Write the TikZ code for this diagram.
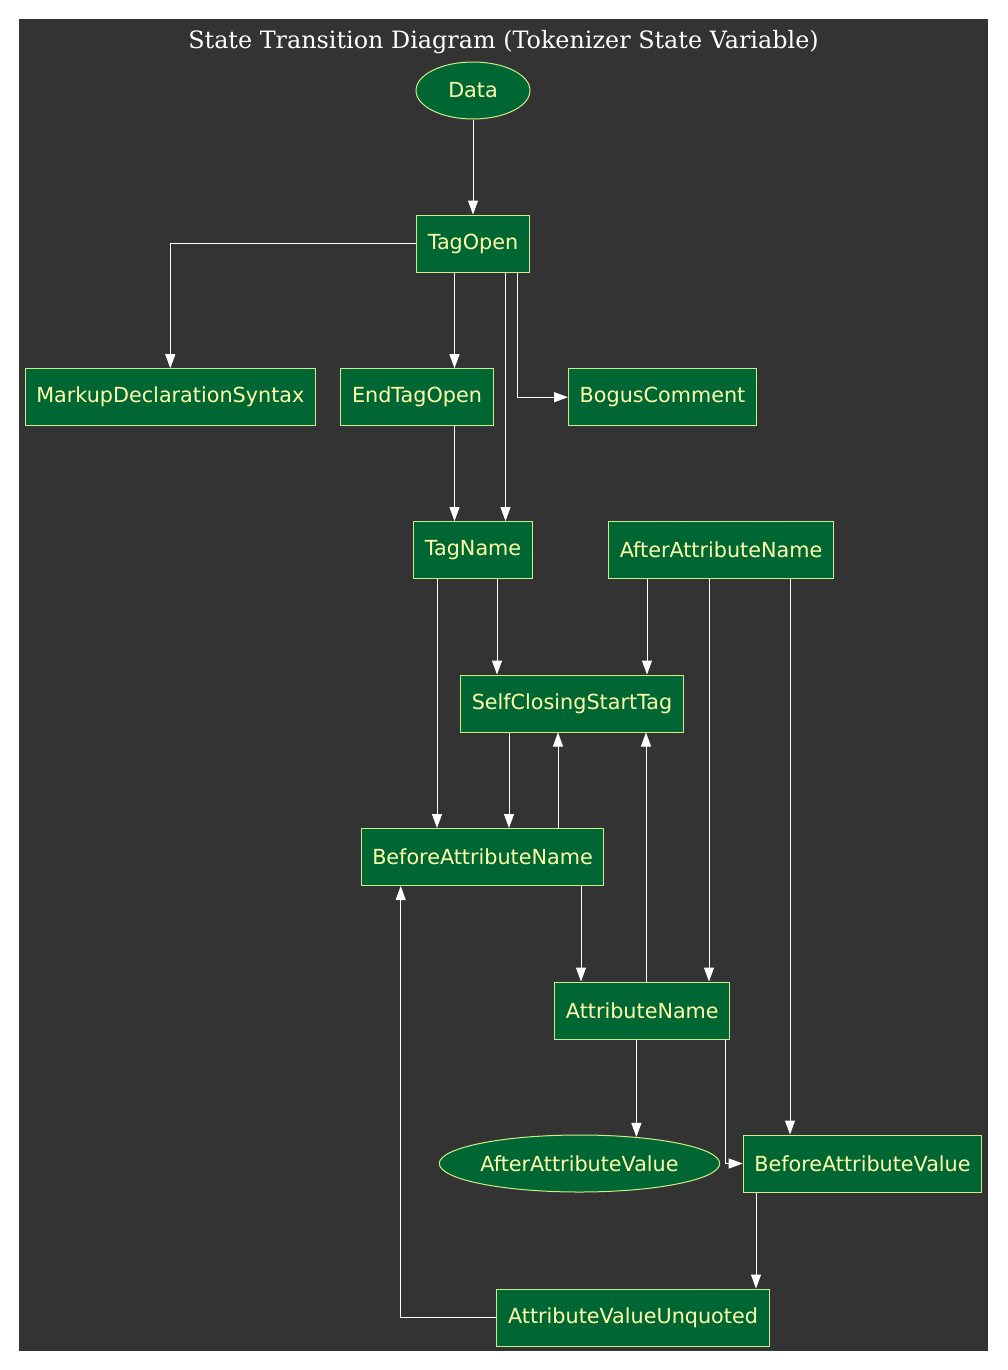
\documentclass[tikz,border=0pt]{standalone}
\usepackage{fontspec}
\setmainfont{DejaVu Serif}
\newfontfamily\statefont{DejaVu Sans}
\usetikzlibrary{arrows.meta,positioning,shapes.geometric}
\definecolor{panel}{HTML}{333333}
\definecolor{statefill}{HTML}{006633}
\definecolor{stateline}{HTML}{CCEE88}
\definecolor{statetext}{HTML}{FFFFAA}
\tikzset{every picture/.style={
  >={Triangle[length=10.5pt,width=7.5pt]}   % Graphviz style arrow heads.
  }
}

\begin{document}
\begin{tikzpicture}[
    x=0.75pt, y=-0.75pt,
    line width=0.75pt,
    state/.style={
      draw=stateline,
      fill=statefill,
      text=statetext,
      font=\statefont\fontsize{15.55}{18}\selectfont,
      minimum height=42.75pt
    },
    statebox/.style={state,rectangle,inner xsep=8.4pt},
    stateoval/.style={state,ellipse,inner xsep=0pt},
    trans/.style={->,draw=white}]

    % Helper macros.
    \def\tdown#1#2#3{ \draw[trans] (#3,0 |- #1.south) -- (#3,0 |- #2.north) }
    \def\tup#1#2#3{ \draw[trans] (#3,0 |- #1.north) -- (#3,0 |- #2.south) }

    % Page and cluster background.
    \useasboundingbox (0,0) rectangle (1007,1370);
    \fill[white] (0,0) rectangle (1007,1370);
    \fill[panel] (19.3,19.3) rectangle (987.5,1351);
    \node[anchor=base,text=white,font=\fontsize{17.9}{20}\selectfont] (title)
      at (503.5,48.5) {State Transition Diagram (Tokenizer State Variable)};

    % Draw the states, one rank per row.
    \node[stateoval,minimum width=85.5pt] (data) at (473,90.5) {Data};
    \node[statebox] (tagopen) at (473,243.5) {TagOpen};
    \node[statebox] (markup) at (170.3,397.2) {MarkupDeclarationSyntax};
    \node[statebox] (endtag) at (417,397.2) {EndTagOpen};
    \node[statebox] (bogus) at (662.5,397.2) {BogusComment};
    \node[statebox] (tagname) at (473,550) {TagName};
    \node[statebox] (afterattr) at (721,550) {AfterAttributeName};
    \node[statebox] (selfclosing) at (572,703.5) {SelfClosingStartTag};
    \node[statebox] (beforeattr) at (482.5,857) {BeforeAttributeName};
    \node[statebox] (attrname) at (642.3,1010.5) {AttributeName};
    \node[stateoval] (afterval) at (579.5,1163.5) {AfterAttributeValue};
    \node[statebox] (beforeval) at (862.5,1163.5) {BeforeAttributeValue};
    \node[statebox] (unquoted) at (633,1317.5) {AttributeValueUnquoted};

    % Draw the transitions.
    \draw[trans] (data) -- (tagopen);
    \draw[trans] (tagopen.west) -| (markup.north);
    \tdown{tagopen}{endtag}{454.5};
    \tdown{tagopen}{tagname}{505.5};
    \draw[trans] (517.5,0 |- tagopen.south) |- (bogus.west);
    \tdown{endtag}{tagname}{454.5};
    \tdown{tagname}{beforeattr}{437};
    \tdown{tagname}{selfclosing}{497};
    \tdown{afterattr}{selfclosing}{647};
    \tdown{afterattr}{attrname}{709};
    \tdown{afterattr}{beforeval}{790};
    \tdown{selfclosing}{beforeattr}{509};
    \tup{beforeattr}{selfclosing}{558};
    \tdown{beforeattr}{attrname}{581};
    \tup{attrname}{selfclosing}{646};
    \draw[trans] (afterval.25 |- attrname.south) -- (afterval.25);
    \draw[trans] (725,0 |- attrname.south) |- (beforeval.west);
    \tdown{beforeval}{unquoted}{756};
    \draw[trans] (unquoted.west) -| (400.7,0 |- beforeattr.south);

\end{tikzpicture}
\end{document}
